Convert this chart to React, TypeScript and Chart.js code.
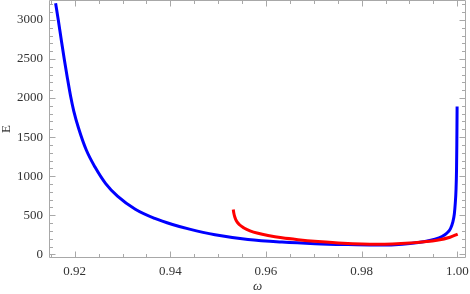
import { useEffect, useRef } from "react";
import { Chart, registerables } from "chart.js";

Chart.register(...registerables);

// Blue branch: omega and E
const blueOmega = [
  0.91601, 0.91657, 0.9172, 0.91785, 0.91847, 0.91914, 0.91981, 0.9208, 0.92243,
  0.92425, 0.92644, 0.92895, 0.93267, 0.93675, 0.94045, 0.944, 0.94934, 0.95624,
  0.96335, 0.97025, 0.97652, 0.98279, 0.98697, 0.99011, 0.99325, 0.99534, 0.9968,
  0.99785, 0.99858, 0.99906, 0.99938, 0.99958, 0.99973, 0.99984, 0.9999, 0.99994,
  0.99996,
];
const blueE = [
  3213, 2999, 2743, 2487, 2257, 2026, 1834, 1617, 1335, 1117, 909, 745, 578, 460,
  382, 322, 251, 191, 157, 136, 125, 119, 123, 138, 164, 193, 228, 273, 330, 413,
  516, 657, 823, 1079, 1399, 1719, 1892,
];

// Red branch: omega and E
const redOmega = [
  0.95316, 0.95327, 0.95348, 0.95383, 0.95446, 0.9554, 0.95666, 0.95833, 0.96042,
  0.96335, 0.96669, 0.97088, 0.9761, 0.98321, 0.99011, 0.99576, 0.99848, 1.00008,
];
const redE = [573, 529, 477, 426, 378, 337, 301, 269, 241, 211, 187, 164, 142, 129, 145, 179, 218, 260];

const xTicks = [0.92, 0.94, 0.96, 0.98, 1.0];
const xMinorTicks = [0.915, 0.925, 0.93, 0.935, 0.945, 0.95, 0.955, 0.965, 0.97, 0.975, 0.985, 0.99, 0.995];
const yTicks = [0, 500, 1000, 1500, 2000, 2500, 3000];
const yMinorTicks = [
  100, 200, 300, 400, 600, 700, 800, 900, 1100, 1200, 1300, 1400, 1600, 1700, 1800,
  1900, 2100, 2200, 2300, 2400, 2600, 2700, 2800, 2900, 3100, 3200,
];

const xLabel = "ω";
const yLabel = "E";

const FONT = '"Liberation Serif", "Times New Roman", serif';

const frameTicksPlugin = {
  id: "frameTicks",
  beforeDatasetsDraw(chart: any) {
    const { ctx, chartArea, scales } = chart;
    const { left, right, top, bottom } = chartArea;
    const x = scales.x;
    const y = scales.y;
    ctx.save();
    ctx.strokeStyle = "#a8a8a8";
    ctx.lineWidth = 1;
    const L = left + 0.5;
    const R = right - 0.5;
    const T = top + 0.5;
    const B = bottom - 0.5;
    ctx.beginPath();
    ctx.moveTo(L, T);
    ctx.lineTo(R, T);
    ctx.lineTo(R, B);
    ctx.lineTo(L, B);
    ctx.closePath();
    ctx.stroke();
    const vt = (v: number, len: number) => {
      const p = Math.round(x.getPixelForValue(v)) + 0.5;
      ctx.moveTo(p, B);
      ctx.lineTo(p, B - len);
      ctx.moveTo(p, T);
      ctx.lineTo(p, T + len);
    };
    const ht = (v: number, len: number) => {
      const p = Math.round(y.getPixelForValue(v)) + 0.5;
      ctx.moveTo(L, p);
      ctx.lineTo(L + len, p);
      ctx.moveTo(R, p);
      ctx.lineTo(R - len, p);
    };
    ctx.beginPath();
    xTicks.forEach((v) => vt(v, 6));
    xMinorTicks.forEach((v) => vt(v, 3.5));
    yTicks.forEach((v) => ht(v, 6));
    yMinorTicks.forEach((v) => ht(v, 3.5));
    ctx.stroke();
    ctx.restore();
  },
  afterDraw(chart: any) {
    const { ctx, chartArea } = chart;
    const { left, right, top, bottom } = chartArea;
    ctx.save();
    ctx.fillStyle = "#333";
    ctx.textAlign = "center";
    ctx.textBaseline = "middle";
    ctx.font = `italic 13px ${FONT}`;
    ctx.fillText(xLabel, (left + right) / 2, bottom + 29);
    ctx.translate(7, (top + bottom) / 2);
    ctx.rotate(-Math.PI / 2);
    ctx.font = `13px ${FONT}`;
    ctx.fillText(yLabel, 0, 0);
    ctx.restore();
  },
};

export default function App() {
  const ref = useRef<HTMLCanvasElement | null>(null);
  useEffect(() => {
    if (!ref.current) return;
    const chart = new Chart(ref.current, {
      type: "scatter",
      data: {
        datasets: [
          {
            data: redOmega.map((w, i) => ({ x: w, y: redE[i] })),
            showLine: true,
            borderColor: "#ff0000",
            borderWidth: 3,
            pointRadius: 0,
            cubicInterpolationMode: "monotone",
          },
          {
            data: blueOmega.map((w, i) => ({ x: w, y: blueE[i] })),
            showLine: true,
            borderColor: "#0000ff",
            borderWidth: 3,
            pointRadius: 0,
            cubicInterpolationMode: "monotone",
          },
        ],
      },
      options: {
        animation: false,
        responsive: true,
        maintainAspectRatio: false,
        layout: { padding: { left: 0, right: 4, top: 0, bottom: 0 } },
        plugins: { legend: { display: false }, tooltip: { enabled: false } },
        scales: {
          x: {
            type: "linear",
            min: 0.91463,
            max: 1.00182,
            grid: { display: false, drawTicks: false },
            border: { display: false },
            afterBuildTicks: (s: any) => {
              s.ticks = xTicks.map((v) => ({ value: v }));
            },
            afterFit: (s: any) => {
              s.height = 36;
              s.paddingLeft = 0;
              s.paddingRight = 0;
            },
            ticks: {
              autoSkip: false,
              maxRotation: 0,
              padding: 6,
              color: "#333",
              font: { family: FONT, size: 13 },
              callback: (v: any) => Number(v).toFixed(2),
            },
          },
          y: {
            type: "linear",
            min: -47,
            max: 3255,
            grid: { display: false, drawTicks: false },
            border: { display: false },
            afterBuildTicks: (s: any) => {
              s.ticks = yTicks.map((v) => ({ value: v }));
            },
            afterFit: (s: any) => {
              s.width = 49;
              s.paddingTop = 0;
              s.paddingBottom = 0;
            },
            ticks: {
              autoSkip: false,
              padding: 6,
              color: "#333",
              font: { family: FONT, size: 13 },
              callback: (v: any) => String(v),
            },
          },
        },
      },
      plugins: [frameTicksPlugin],
    });
    return () => chart.destroy();
  }, []);
  return (
    <div style={{ position: "absolute", left: 0, top: 0, width: 470, height: 294 }}>
      <canvas ref={ref} />
    </div>
  );
}
